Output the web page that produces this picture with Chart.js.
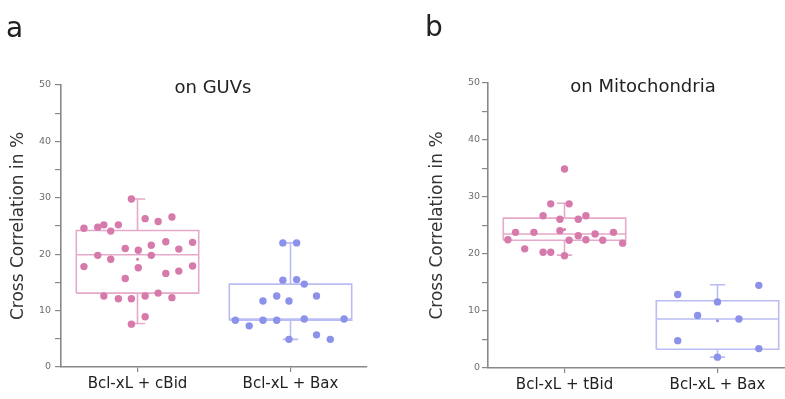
<!DOCTYPE html>
<html>
<head>
<meta charset="utf-8">
<script src="https://cdn.jsdelivr.net/npm/chart.js@4.4.0/dist/chart.umd.min.js"></script>
<style>
  html, body { margin: 0; padding: 0; background: #fff; overflow: hidden; }
  #wrap { position: relative; width: 785px; height: 399px; overflow: hidden; }
  canvas { position: absolute; top: 0; }
  .txt { position: absolute; font-family: "DejaVu Sans", sans-serif; color: #222; white-space: nowrap; line-height: 1.16; }
  .ttl { font-size: 18px; transform: translateX(-50%); }
</style>
</head>
<body>
<div id="wrap">
  <canvas id="chartA" width="380" height="399" style="left:0px"></canvas>
  <canvas id="chartB" width="388" height="399" style="left:419px"></canvas>
  <div class="txt" style="left:6px;top:12px;font-size:28px">a</div>
  <div class="txt" style="left:425px;top:11px;font-size:28px">b</div>
  <div class="txt ttl" style="left:213px;top:77px">on GUVs</div>
  <div class="txt ttl" style="left:643px;top:76px">on Mitochondria</div>
</div>
<script>
// categories
const guvGroups = ["Bcl-xL + cBid", "Bcl-xL + Bax"];
const mitoGroups = ["Bcl-xL + tBid", "Bcl-xL + Bax"];

// a: on GUVs, cross correlation in % (jitter = horizontal offset in category widths)
const guvCbid = [24.6, 24.8, 25.2, 24.1, 25.2, 29.8, 26.3, 25.8, 26.6, 17.8, 19.8, 19.1, 21.0, 20.7, 21.6, 19.8,
  22.2, 20.9, 22.1, 17.9, 17.6, 15.7, 16.6, 17.0, 12.6, 12.1, 12.1, 12.6, 13.1, 12.3, 8.9, 7.6];
const guvCbidJitter = [-0.35, -0.26, -0.22, -0.175, -0.125, -0.04, 0.05, 0.135, 0.225, -0.35, -0.26, -0.175, -0.08, 0.005, 0.09, 0.09,
  0.185, 0.27, 0.36, 0.36, 0.005, -0.08, 0.185, 0.27, -0.22, -0.125, -0.04, 0.05, 0.135, 0.225, 0.05, -0.04];
const guvBax = [22.0, 22.0, 15.4, 15.5, 14.7, 11.7, 12.6, 11.7, 12.6, 8.3, 7.3, 8.3, 8.3, 8.5, 8.5, 4.9, 5.7, 4.9];
const guvBaxJitter = [-0.05, 0.04, -0.05, 0.04, 0.09, -0.18, -0.09, -0.01, 0.17, -0.36, -0.27, -0.18, -0.09, 0.09, 0.35, -0.01, 0.17, 0.26];

// b: on mitochondria
const mitoTbid = [34.9, 28.8, 28.8, 26.7, 26.1, 26.1, 26.7, 24.1, 23.8, 23.8, 23.2, 23.5, 23.8, 22.5, 22.4, 22.5, 22.4, 21.9,
  20.9, 20.3, 20.3, 19.7];
const mitoTbidJitter = [0.0, -0.09, 0.03, -0.14, -0.03, 0.09, 0.14, -0.03, -0.32, -0.20, 0.09, 0.20, 0.32, -0.37, 0.03, 0.14, 0.25, 0.38,
  -0.26, -0.14, -0.09, 0.0];
const mitoBax = [12.9, 14.5, 11.6, 9.2, 8.6, 4.8, 3.4, 1.9];
const mitoBaxJitter = [-0.26, 0.27, 0.0, -0.13, 0.14, -0.26, 0.27, 0.0];

// box statistics per group (min, q1, median, q3, max, mean)
const guvMin = [7.7, 4.9], guvQ1 = [13.1, 8.3], guvMedian = [19.9, 8.5], guvQ3 = [24.2, 14.7], guvMax = [29.8, 22.0], guvMean = [19.1, 11.4];
const mitoMin = [19.8, 1.9], mitoQ1 = [22.4, 3.3], mitoMedian = [23.5, 8.6], mitoQ3 = [26.3, 11.8], mitoMax = [28.9, 14.6], mitoMean = [24.3, 8.3];

const pink = "#d67aab", pinkBox = "#e5a9c9";
const blue = "#8c91ea", blueBox = "#b9bdf3";

const FONT = "'DejaVu Sans', sans-serif";
const BOX_HALF = 0.4, CAP_HALF = 0.05;

function boxPath(i, lo, q1, med, q3, hi) {
  const gap = { x: i, y: null };
  return [
    { x: i - BOX_HALF, y: q1 }, { x: i + BOX_HALF, y: q1 }, { x: i + BOX_HALF, y: q3 }, { x: i - BOX_HALF, y: q3 }, { x: i - BOX_HALF, y: q1 }, gap,
    { x: i - BOX_HALF, y: med }, { x: i + BOX_HALF, y: med }, gap,
    { x: i, y: q3 }, { x: i, y: hi }, gap,
    { x: i - CAP_HALF, y: hi }, { x: i + CAP_HALF, y: hi }, gap,
    { x: i, y: q1 }, { x: i, y: lo }, gap,
    { x: i - CAP_HALF, y: lo }, { x: i + CAP_HALF, y: lo },
  ];
}

function makePanel(id, groups, values, jitters, stats, colors, geo) {
  const datasets = [];
  groups.forEach((g, i) => {
    datasets.push({
      type: "scatter",
      data: values[i].map((v, k) => ({ x: i + jitters[i][k], y: v })),
      backgroundColor: colors[i][0],
      borderWidth: 0,
      pointRadius: 3.7,
      pointHoverRadius: 3.7,
      order: 0,
      clip: false,
    });
    datasets.push({
      type: "scatter",
      data: [{ x: i, y: stats.mean[i] }],
      backgroundColor: colors[i][0],
      borderWidth: 0,
      pointRadius: 1.5,
      order: 0,
    });
    datasets.push({
      type: "scatter",
      showLine: true,
      data: boxPath(i, stats.min[i], stats.q1[i], stats.median[i], stats.q3[i], stats.max[i]),
      borderColor: colors[i][1],
      borderWidth: 1.6,
      pointRadius: 0,
      fill: false,
      spanGaps: false,
      order: 1,
    });
  });

  new Chart(document.getElementById(id), {
    type: "scatter",
    data: { datasets },
    options: {
      responsive: false,
      animation: false,
      events: [],
      layout: { padding: { top: geo.top, right: 13, bottom: 0, left: 0 } },
      plugins: { legend: { display: false }, tooltip: { enabled: false } },
      scales: {
        x: {
          type: "linear",
          min: -0.5,
          max: 1.5,
          afterFit: (s) => { s.height = geo.bottom; },
          afterBuildTicks: (s) => { s.ticks = groups.map((g, i) => ({ value: i })); },
          ticks: {
            padding: 3,
            color: "#222",
            font: { family: FONT, size: 15 },
            callback: (v) => groups[v],
          },
          grid: { drawOnChartArea: false, drawTicks: true, tickLength: 5, color: "#888", lineWidth: 1.2 },
          border: { display: true, color: "#888", width: 1.6 },
        },
        y: {
          min: 0,
          max: 50,
          afterFit: (s) => { s.width = geo.yWidth; },
          ticks: {
            stepSize: 5,
            padding: geo.tickPad,
            color: "#6e6e6e",
            font: { family: FONT, size: 9.5 },
            callback: (v) => (v % 10 === 0 ? v : ""),
          },
          grid: { drawOnChartArea: false, drawTicks: true, tickLength: 6, color: "#888", lineWidth: 1.2 },
          border: { display: true, color: "#888", width: 1.6 },
          title: {
            display: true,
            text: "Cross Correlation in %",
            color: "#333",
            font: { family: FONT, size: 17 },
            padding: { top: 8, bottom: 0 },
          },
        },
      },
    },
  });
}

makePanel("chartA", guvGroups, [guvCbid, guvBax], [guvCbidJitter, guvBaxJitter],
  { min: guvMin, q1: guvQ1, median: guvMedian, q3: guvQ3, max: guvMax, mean: guvMean },
  [[pink, pinkBox], [blue, blueBox]],
  { top: 85, bottom: 32, yWidth: 61, tickPad: 4 });

makePanel("chartB", mitoGroups, [mitoTbid, mitoBax], [mitoTbidJitter, mitoBaxJitter],
  { min: mitoMin, q1: mitoQ1, median: mitoMedian, q3: mitoQ3, max: mitoMax, mean: mitoMean },
  [[pink, pinkBox], [blue, blueBox]],
  { top: 83, bottom: 31, yWidth: 69, tickPad: 2 });
</script>
</body>
</html>
